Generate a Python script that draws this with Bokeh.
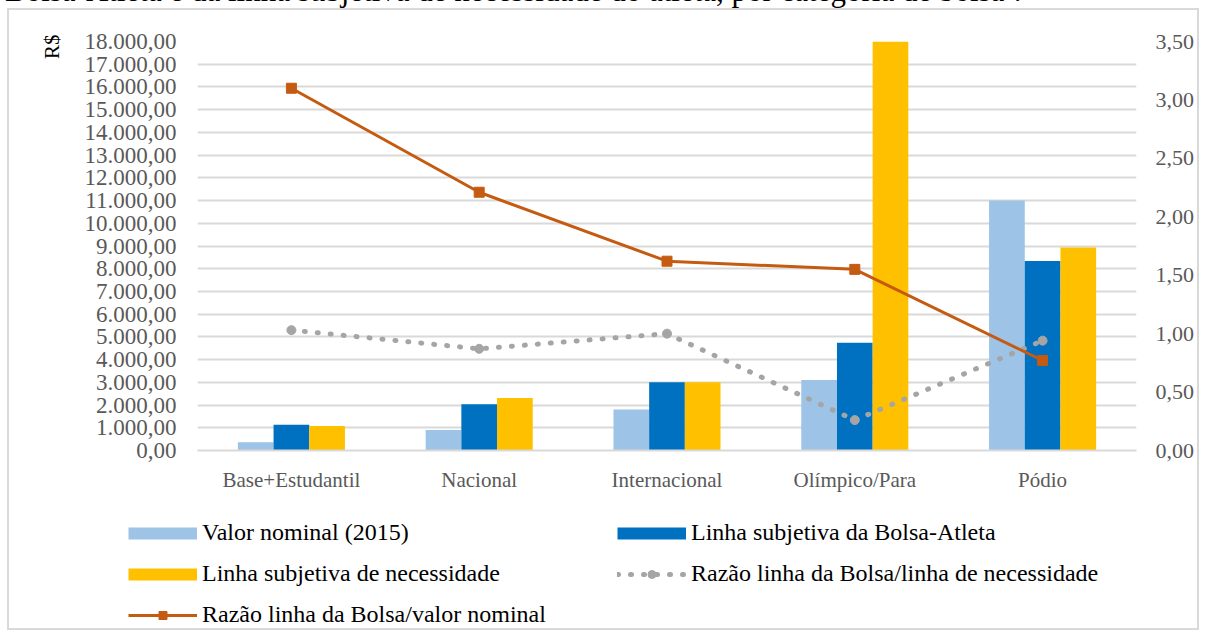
from bokeh.plotting import figure
from bokeh.models import (FactorRange, Range1d, LinearAxis, FixedTicker, CustomJSTickFormatter,
                          Legend, LegendItem, Title, Div, ColumnDataSource)
from bokeh.transform import dodge
from bokeh.layouts import column, row
from bokeh.embed import file_html
from bokeh.resources import INLINE

# ---- data ----
categorias = ["Base+Estudantil", "Nacional", "Internacional", "Olímpico/Para", "Pódio"]
valor_nominal = [360, 900, 1800, 3100, 11000]
linha_bolsa = [1130, 2030, 3000, 4740, 8340]
linha_necessidade = [1080, 2310, 3000, 18000, 8930]
razao_necessidade = [1.03, 0.87, 1.00, 0.26, 0.94]
razao_nominal = [3.10, 2.21, 1.62, 1.55, 0.77]
ticks_rs = list(range(0, 18001, 1000))
ticks_razao = [0, 0.5, 1.0, 1.5, 2.0, 2.5, 3.0, 3.5]

legenda = ["Valor nominal (2015)", "Linha subjetiva da Bolsa-Atleta",
           "Linha subjetiva de necessidade", "Razão linha da Bolsa/linha de necessidade",
           "Razão linha da Bolsa/valor nominal"]

C_NOM = "#9DC3E6"
C_BOL = "#0070C0"
C_NEC = "#FFC000"
C_GREY = "#A5A5A5"
C_ORANGE = "#C55A11"
FONT = "Liberation Serif"
AX_COL = "#595959"
GRID = "#D9D9D9"

src = ColumnDataSource(dict(cat=categorias, nom=valor_nominal, bol=linha_bolsa,
                            nec=linha_necessidade, rnec=razao_necessidade, rnom=razao_nominal))

p = figure(x_range=FactorRange(factors=categorias), y_range=Range1d(0, 18000),
           width=1188, height=492, output_backend="svg", toolbar_location=None,
           min_border_left=188, min_border_right=47, min_border_top=31, min_border_bottom=52)
p.extra_y_ranges = {"ratio": Range1d(0, 3.5)}
p.outline_line_color = None
p.background_fill_color = "white"
p.border_fill_color = "white"

bw = 0.19
p.vbar(x=dodge("cat", -bw, range=p.x_range), top="nom", width=bw, source=src,
       fill_color=C_NOM, line_color=None)
p.vbar(x=dodge("cat", 0, range=p.x_range), top="bol", width=bw, source=src,
       fill_color=C_BOL, line_color=None)
p.vbar(x=dodge("cat", bw, range=p.x_range), top="nec", width=bw, source=src,
       fill_color=C_NEC, line_color=None)

p.line(x="cat", y="rnec", source=src, y_range_name="ratio", line_color=C_GREY,
       line_width=5, line_dash="1 12", line_cap="round")
p.scatter(x="cat", y="rnec", source=src, y_range_name="ratio", marker="circle",
          size=9, fill_color=C_GREY, line_color=C_GREY)
p.line(x="cat", y="rnom", source=src, y_range_name="ratio", line_color=C_ORANGE,
       line_width=3)
p.scatter(x="cat", y="rnom", source=src, y_range_name="ratio", marker="square",
          size=10, fill_color=C_ORANGE, line_color=C_ORANGE)

# axes
ya = p.yaxis[0]
ya.ticker = FixedTicker(ticks=ticks_rs)
ya.formatter = CustomJSTickFormatter(code="""
const s = tick.toFixed(2).split('.');
return s[0].replace(/\\B(?=(\\d{3})+(?!\\d))/g, '.') + ',' + s[1];
""")
ra = LinearAxis(y_range_name="ratio", ticker=FixedTicker(ticks=ticks_razao),
                formatter=CustomJSTickFormatter(code="return tick.toFixed(2).replace('.', ',');"))
p.add_layout(ra, "right")

for ax in (ya, ra):
    ax.axis_line_color = None
    ax.major_tick_line_color = None
    ax.minor_tick_line_color = None
    ax.major_tick_out = 0
    ax.major_tick_in = 0
    ax.minor_tick_out = 0
    ax.major_label_text_font = FONT
    ax.major_label_text_color = AX_COL
ya.major_label_text_font_size = "23px"
ra.major_label_text_font_size = "22px"
ya.major_label_standoff = 21
ra.major_label_standoff = 19

xa = p.xaxis[0]
xa.axis_line_color = GRID
xa.axis_line_width = 2
xa.major_tick_line_color = None
xa.minor_tick_line_color = None
xa.major_tick_out = 0
xa.major_tick_in = 0
xa.major_label_text_font = FONT
xa.major_label_text_font_size = "21px"
xa.major_label_text_color = AX_COL
xa.major_label_standoff = 17

p.xgrid.grid_line_color = None
p.ygrid.grid_line_color = GRID
p.ygrid.grid_line_width = 2
p.ygrid.ticker = FixedTicker(ticks=ticks_rs)

p.add_layout(Title(text="R$", align="right", text_font=FONT, text_font_size="21px",
                   text_font_style="normal", text_color="black", standoff=35, offset=-7), "left")

# ---- legend panel (separate figure below the chart; its data lies outside its view) ----
lf = figure(x_range=FactorRange(factors=categorias), y_range=Range1d(-2, -1),
            width=1188, height=126, output_backend="svg",
            toolbar_location=None, x_axis_location=None, y_axis_location=None,
            min_border=0)
lf.outline_line_color = None
lf.grid.grid_line_color = None
lf.background_fill_color = "white"
lf.border_fill_color = "white"

lg_nom = lf.line(x="cat", y="nom", source=src, line_color=C_NOM, line_width=12, line_cap="butt")
lg_bol = lf.line(x="cat", y="bol", source=src, line_color=C_BOL, line_width=12, line_cap="butt")
lg_nec = lf.line(x="cat", y="nec", source=src, line_color=C_NEC, line_width=12, line_cap="butt")
lg_gl = lf.line(x="cat", y="rnec", source=src, line_color=C_GREY, line_width=5,
                line_dash="1 12", line_cap="round")
lg_gp = lf.scatter(x="cat", y="rnec", source=src, marker="circle", size=9,
                   fill_color=C_GREY, line_color=C_GREY)
lg_ol = lf.line(x="cat", y="rnom", source=src, line_color=C_ORANGE, line_width=3)
lg_op = lf.scatter(x="cat", y="rnom", source=src, marker="square", size=10,
                   fill_color=C_ORANGE, line_color=C_ORANGE)

items = [
    LegendItem(label=legenda[0], renderers=[lg_nom]),
    LegendItem(label=legenda[1], renderers=[lg_bol]),
    LegendItem(label=legenda[2], renderers=[lg_nec]),
    LegendItem(label=legenda[3], renderers=[lg_gl, lg_gp]),
    LegendItem(label=legenda[4], renderers=[lg_ol, lg_op]),
]
leg = Legend(items=items, location=(119, 0), orientation="horizontal", ncols=2,
             glyph_width=69, glyph_height=20, label_height=20, label_width=401,
             label_standoff=5, spacing=14, padding=0, margin=0,
             label_text_font="Times New Roman", label_text_font_style="normal",
             label_text_font_size="24px", label_text_color="black",
             border_line_color=None, background_fill_alpha=0)
lf.add_layout(leg, "center")

chart = column(row(p), row(lf), styles={"border": "2px solid #D9D9D9", "margin-left": "7px"})

cap = Div(text="Bolsa-Atleta e da linha subjetiva de necessidade do atleta, por categoria de bolsa¹.",
          width=1192, height=28,
          styles={"margin-top": "-25px", "font-family": FONT, "font-size": "31px",
                  "line-height": "32px", "color": "black", "white-space": "nowrap"})

layout = column(cap, chart)
open("out.html", "w").write(file_html(layout, INLINE))
